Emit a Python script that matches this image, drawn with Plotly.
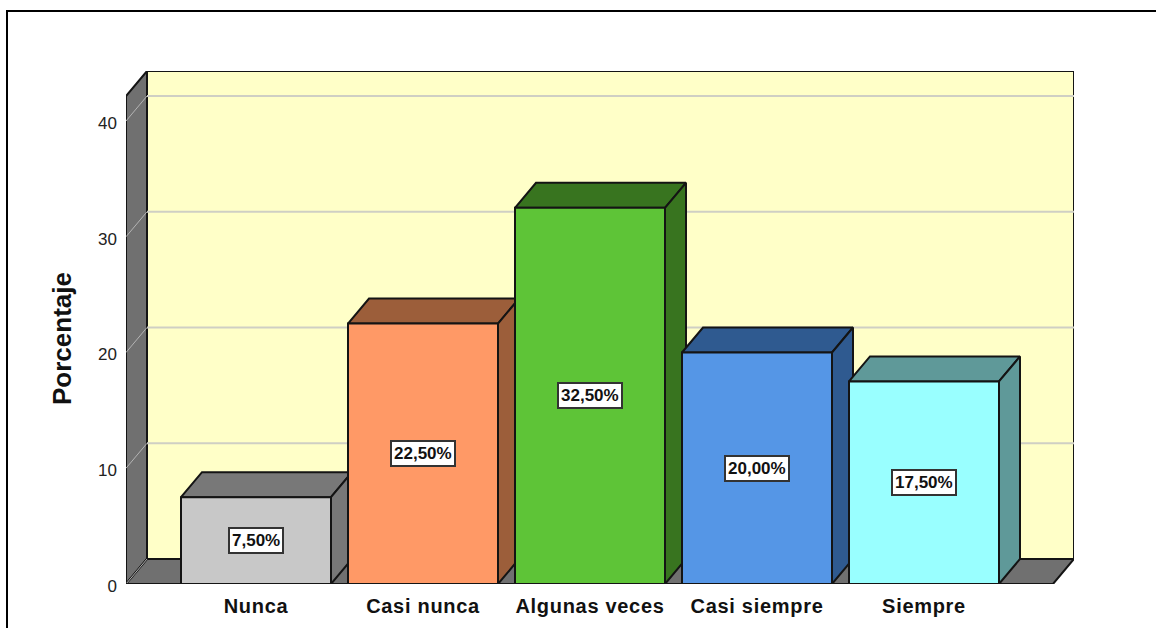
import plotly.graph_objects as go

categories = ["Nunca", "Casi nunca", "Algunas veces", "Casi siempre", "Siempre"]
values = [7.5, 22.5, 32.5, 20.0, 17.5]
front_colors = ["#C8C8C8", "#FF9966", "#5EC437", "#5596E6", "#99FFFF"]
side_colors = ["#787878", "#9C5E3A", "#38741F", "#2F5A90", "#5F9999"]
y_ticks = [0, 10, 20, 30, 40]
y_title = "Porcentaje"

W, H = 1156, 628
L, R, T, B = 126, 1074, 71, 584
PX_X = 167.0
PX_Y = 11.575
X0 = 256
DX = 21 / PX_X
DY = 25 / PX_Y
BAR = 150 / PX_X
XMIN = (L - X0) / PX_X
XMAX = (R - X0) / PX_X
YMAX = (B - T) / PX_Y
FRONT_R = XMAX - DX
WALL_TOP = YMAX - DY
EDGE = "#141414"
GRID = "#CFCFC4"
WALL = "#707070"

fig = go.Figure()


def poly(xs, ys, fill, lw=2, color=EDGE):
    fig.add_trace(go.Scatter(
        x=xs + xs[:1], y=ys + ys[:1], mode="lines", fill="toself", fillcolor=fill,
        line=dict(color=color, width=lw), hoverinfo="skip", showlegend=False, cliponaxis=False,
    ))


def seg(xs, ys, color, lw=2):
    fig.add_trace(go.Scatter(
        x=xs, y=ys, mode="lines", line=dict(color=color, width=lw),
        hoverinfo="skip", showlegend=False, cliponaxis=False,
    ))


# back wall, left wall, floor
poly([XMIN + DX, XMAX, XMAX, XMIN + DX], [DY, DY, YMAX, YMAX], "#FFFFC8")
poly([XMIN, XMIN + DX, XMIN + DX, XMIN], [0, DY, YMAX, WALL_TOP], WALL)
poly([XMIN, XMIN + DX, XMAX, FRONT_R], [0, DY, DY, 0], WALL)

# gridlines on back wall and left wall
for t in y_ticks:
    if t > 0:
        seg([XMIN + DX, XMAX], [t + DY, t + DY], GRID, 2)
    seg([XMIN, XMIN + DX], [t, t + DY], "#B4B4B4", 1)

# bars, left to right so that each front covers the neighbour's side
for i, (v, fc, sc) in enumerate(zip(values, front_colors, side_colors)):
    a, b = i - BAR / 2, i + BAR / 2
    poly([a, a + DX, b + DX, b], [v, v + DY, v + DY, v], sc)
    poly([b, b + DX, b + DX, b], [0, DY, v + DY, v], sc)
    poly([a, b, b, a], [0, 0, v, v], fc)

# bottom front edge
seg([XMIN, FRONT_R], [0, 0], EDGE, 2)

for i, v in enumerate(values):
    fig.add_annotation(
        x=i, y=v / 2, text=f"{v:.2f}%".replace(".", ","), showarrow=False,
        font=dict(family="Liberation Sans", size=17, color="#111111", weight="bold"),
        bgcolor="white", bordercolor="#333333", borderwidth=2, borderpad=2,
    )

pw, ph = R - L, B - T
fx = lambda p: (p - L) / pw
fy = lambda p: (B - p) / ph
fig.add_annotation(
    xref="paper", yref="paper", x=fx(62), y=fy(339), text=y_title, textangle=-90, showarrow=False,
    xanchor="center", yanchor="middle",
    font=dict(family="Liberation Sans", size=26, color="#111111", weight="bold"),
)
fig.add_shape(type="line", xref="paper", yref="paper", x0=fx(7), x1=fx(W + 5), y0=fy(11), y1=fy(11),
              line=dict(color="black", width=2))
fig.add_shape(type="line", xref="paper", yref="paper", x0=fx(7), x1=fx(7), y0=fy(10), y1=fy(H + 5),
              line=dict(color="black", width=2))

fig.update_layout(
    width=W, height=H, autosize=False, paper_bgcolor="white", plot_bgcolor="white",
    margin=dict(l=L, r=W - R, t=T, b=H - B, pad=0),
    showlegend=False,
    xaxis=dict(range=[XMIN, XMAX], tickmode="array", tickvals=list(range(len(categories))),
               ticktext=categories, showgrid=False, zeroline=False, showline=False, ticks="",
               ticklabelstandoff=8,
               tickfont=dict(family="Liberation Sans", size=20, color="#111111", weight="bold")),
    yaxis=dict(range=[0, YMAX], tickmode="array", tickvals=y_ticks, showgrid=False, zeroline=False,
               showline=False, ticks="", ticklabelstandoff=8, ticklabelshift=2,
               tickfont=dict(family="Liberation Sans", size=17, color="#222222")),
)

css = ".xtick text{letter-spacing:0.7px;}"
fig.write_html("out.html", config={"displayModeBar": False},
               post_script="document.body.style.margin='0';document.documentElement.style.overflow='hidden';"
                           "var s=document.createElement('style');s.textContent='" + css + "';document.head.appendChild(s);")
